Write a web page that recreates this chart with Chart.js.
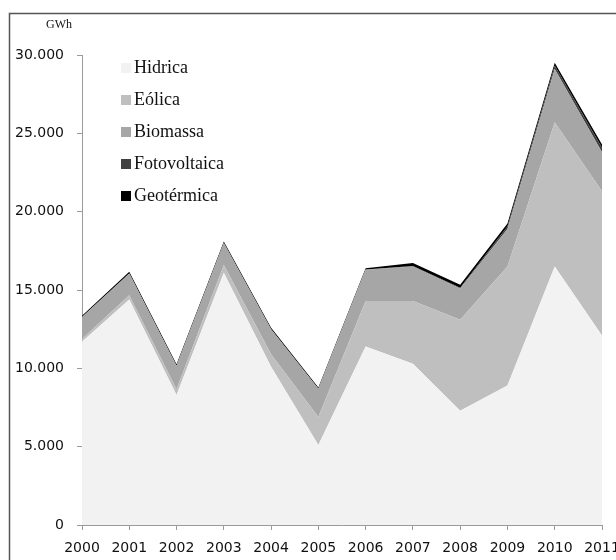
<!DOCTYPE html>
<html>
<head>
<meta charset="utf-8">
<script src="https://cdn.jsdelivr.net/npm/chart.js@4/dist/chart.umd.min.js"></script>
<style>
  html, body { margin: 0; padding: 0; background: #fff; overflow: hidden; }
  #wrap { width: 640px; height: 560px; }
</style>
</head>
<body>
<div id="wrap"><canvas id="energyChart" width="640" height="560"></canvas></div>
<script>
// years on the x axis
const years = ['2000', '2001', '2002', '2003', '2004', '2005', '2006', '2007', '2008', '2009', '2010', '2011'];

// GWh per source (stacked)
const hidrica = [11700, 14400, 8300, 16100, 10100, 5100, 11400, 10300, 7300, 8900, 16500, 12100];
const eolica = [170, 260, 360, 500, 800, 1800, 2900, 4000, 5800, 7600, 9200, 9200];
const biomassa = [1400, 1400, 1500, 1400, 1600, 1800, 2000, 2200, 2000, 2400, 3400, 2500];
const fotovoltaica = [1, 1, 1, 2, 2, 3, 5, 24, 40, 160, 210, 280];
const geotermica = [80, 105, 95, 90, 85, 70, 85, 200, 190, 180, 200, 210];

const yTicks = [0, 5000, 10000, 15000, 20000, 25000, 30000];
const unitLabel = 'GWh';

function fmt(v) {
  return String(v).replace(/\B(?=(\d{3})+(?!\d))/g, '.');
}

function area(label, data, color, fill) {
  return {
    label: label,
    data: data,
    backgroundColor: color,
    borderColor: color,
    borderWidth: 0,
    pointRadius: 0,
    tension: 0,
    fill: fill
  };
}

// frame, unit label and the legend drawn inside the plot
const decorations = {
  id: 'decorations',
  beforeDraw(chart) {
    const c = chart.ctx;
    c.save();
    c.strokeStyle = '#555';
    c.lineWidth = 1.5;
    c.strokeRect(9.5, 13.5, 700, 600);
    c.restore();
  },
  afterDraw(chart) {
    const c = chart.ctx;
    c.save();
    c.fillStyle = '#111';
    c.font = '12px "Liberation Serif"';
    c.textBaseline = 'middle';
    c.fillText(unitLabel, 46, 25);

    c.font = '18px "Liberation Serif"';
    chart.data.datasets.forEach((ds, i) => {
      const y = 68 + i * 32;
      c.fillStyle = ds.backgroundColor;
      c.fillRect(121, y - 5, 10, 10);
      c.fillStyle = '#111';
      c.fillText(ds.label, 134, y);
    });
    c.restore();
  }
};

const ctx = document.getElementById('energyChart').getContext('2d');
const axisFont = { family: '"DejaVu Sans"', size: 14 };

new Chart(ctx, {
  type: 'line',
  data: {
    labels: years,
    datasets: [
      area('Hidrica', hidrica, '#f2f2f2', 'origin'),
      area('Eólica', eolica, '#bfbfbf', '-1'),
      area('Biomassa', biomassa, '#a6a6a6', '-1'),
      area('Fotovoltaica', fotovoltaica, '#404040', '-1'),
      area('Geotérmica', geotermica, '#000000', '-1')
    ]
  },
  options: {
    responsive: false,
    animation: false,
    layout: { padding: { left: 10, top: 55, right: 38, bottom: 0 } },
    plugins: {
      legend: { display: false },
      tooltip: { enabled: false }
    },
    scales: {
      x: {
        offset: false,
        grid: { display: true, drawOnChartArea: false, drawTicks: true, tickLength: 5, color: '#9a9a9a' },
        border: { color: '#9a9a9a' },
        ticks: { font: axisFont, color: '#111', padding: 10, maxRotation: 0, autoSkip: false },
        afterFit(s) { s.height = 35; }
      },
      y: {
        stacked: true,
        min: 0,
        max: 30000,
        afterBuildTicks(s) { s.ticks = yTicks.map(v => ({ value: v })); },
        grid: { display: true, drawOnChartArea: false, drawTicks: true, tickLength: 5, color: '#9a9a9a' },
        border: { color: '#9a9a9a' },
        ticks: { font: axisFont, color: '#111', padding: 13, callback: v => fmt(v) },
        afterFit(s) { s.width = 72; }
      }
    }
  },
  plugins: [decorations]
});
</script>
</body>
</html>
